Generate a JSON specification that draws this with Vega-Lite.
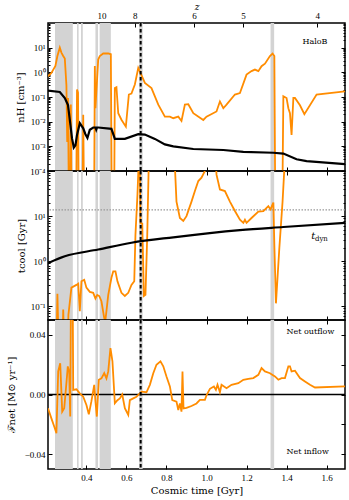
{
"$schema": "https://vega.github.io/schema/vega-lite/v6.json",
"padding": {"left": 5, "right": 2, "top": 1, "bottom": 2},
"bounds": "flush",
"spacing": 0,
"config": {
  "font": "DejaVu Serif",
  "view": {"stroke": "black", "strokeWidth": 1.5},
  "axis": {"domain": false, "grid": false, "tickColor": "black", "tickWidth": 1, "labelFont": "Liberation Serif", "labelFontSize": 9, "labelColor": "black", "titleFont": "DejaVu Serif", "titleFontSize": 10, "titleFontWeight": "normal", "titleColor": "black", "labelOverlap": false, "labelFlush": false}
},
"datasets": {
  "bands": [{"t0":0.243,"t1":0.332},{"t0":0.353,"t1":0.361},{"t0":0.373,"t1":0.382},{"t0":0.445,"t1":0.458},{"t0":0.466,"t1":0.522},{"t0":0.663,"t1":0.681},{"t0":1.320,"t1":1.338}],
  "event": [{"t":0.671}],
  "nh_gas": [
    {"t":0.208,"v":0.69},{"t":0.225,"v":0.95},{"t":0.245,"v":1.8},{"t":0.255,"v":4.6},{"t":0.267,"v":10},{"t":0.275,"v":6.3},{"t":0.284,"v":4.6},{"t":0.292,"v":3.6},{"t":0.300,"v":0.3},{"t":0.304,"v":0.0015},{"t":0.308,"v":0.09},{"t":0.313,"v":0.000001},{"t":0.318,"v":0.000001},{"t":0.322,"v":0.05},{"t":0.326,"v":0.000001},{"t":0.348,"v":0.000001},{"t":0.353,"v":0.2},{"t":0.358,"v":0.15},{"t":0.362,"v":0.000001},{"t":0.380,"v":0.000001},{"t":0.384,"v":0.019},{"t":0.389,"v":0.000001},{"t":0.438,"v":0.000001},{"t":0.442,"v":1.8},{"t":0.445,"v":0.035},{"t":0.459,"v":3.3},{"t":0.467,"v":4.6},{"t":0.484,"v":5.8},{"t":0.509,"v":5.8},{"t":0.522,"v":5.4},{"t":0.527,"v":0.000001},{"t":0.538,"v":0.000001},{"t":0.542,"v":0.23},{"t":0.550,"v":0.25},{"t":0.559,"v":0.022},{"t":0.575,"v":0.012},{"t":0.597,"v":0.0063},{"t":0.612,"v":0.126},{"t":0.625,"v":0.138},{"t":0.642,"v":0.32},{"t":0.659,"v":1.5},{"t":0.670,"v":0.95},{"t":0.692,"v":0.37},{"t":0.725,"v":0.23},{"t":0.759,"v":0.049},{"t":0.792,"v":0.016},{"t":0.817,"v":0.016},{"t":0.834,"v":0.0138},{"t":0.859,"v":0.016},{"t":0.875,"v":0.0107},{"t":0.892,"v":0.049},{"t":0.909,"v":0.051},{"t":0.934,"v":0.022},{"t":0.984,"v":0.0117},{"t":1.000,"v":0.016},{"t":1.050,"v":0.026},{"t":1.067,"v":0.066},{"t":1.084,"v":0.035},{"t":1.100,"v":0.049},{"t":1.142,"v":0.126},{"t":1.167,"v":0.145},{"t":1.200,"v":0.81},{"t":1.225,"v":1.12},{"t":1.242,"v":1.29},{"t":1.259,"v":1.12},{"t":1.275,"v":1.78},{"t":1.292,"v":2.24},{"t":1.317,"v":4.6},{"t":1.330,"v":5.8},{"t":1.339,"v":4.6},{"t":1.344,"v":0.000001},{"t":1.378,"v":0.000001},{"t":1.384,"v":0.107},{"t":1.400,"v":0.091},{"t":1.409,"v":0.035},{"t":1.417,"v":0.022},{"t":1.425,"v":0.0029},{"t":1.434,"v":0.091},{"t":1.442,"v":0.091},{"t":1.467,"v":0.046},{"t":1.489,"v":0.02},{"t":1.550,"v":0.126},{"t":1.692,"v":0.17}
  ],
  "nh_mean": [
    {"t":0.208,"v":0.18},{"t":0.267,"v":0.16},{"t":0.292,"v":0.091},{"t":0.308,"v":0.047},{"t":0.320,"v":0.0074},{"t":0.328,"v":0.0021},{"t":0.337,"v":0.00089},{"t":0.345,"v":0.0011},{"t":0.353,"v":0.0029},{"t":0.367,"v":0.0087},{"t":0.384,"v":0.0054},{"t":0.395,"v":0.0031},{"t":0.405,"v":0.0022},{"t":0.417,"v":0.0047},{"t":0.434,"v":0.0058},{"t":0.445,"v":0.0058},{"t":0.449,"v":0.0047},{"t":0.453,"v":0.0058},{"t":0.459,"v":0.0058},{"t":0.525,"v":0.0051},{"t":0.542,"v":0.002},{"t":0.592,"v":0.002},{"t":0.659,"v":0.0031},{"t":0.692,"v":0.003},{"t":0.742,"v":0.002},{"t":0.792,"v":0.0012},{"t":0.834,"v":0.001},{"t":0.934,"v":0.00078},{"t":1.084,"v":0.00071},{"t":1.184,"v":0.0006},{"t":1.334,"v":0.00055},{"t":1.384,"v":0.00051},{"t":1.450,"v":0.0003},{"t":1.500,"v":0.00025},{"t":1.692,"v":0.00019}
  ],
  "tcool": [
    {"t":0.208,"v":0.01},{"t":0.250,"v":0.01},{"t":0.255,"v":0.19},{"t":0.262,"v":0.01},{"t":0.280,"v":0.01},{"t":0.284,"v":0.085},{"t":0.290,"v":0.01},{"t":0.305,"v":0.01},{"t":0.310,"v":0.065},{"t":0.325,"v":0.26},{"t":0.350,"v":0.30},{"t":0.359,"v":0.32},{"t":0.367,"v":0.078},{"t":0.375,"v":0.36},{"t":0.389,"v":0.39},{"t":0.400,"v":0.26},{"t":0.417,"v":0.21},{"t":0.434,"v":0.20},{"t":0.445,"v":0.15},{"t":0.454,"v":0.18},{"t":0.464,"v":0.17},{"t":0.475,"v":0.13},{"t":0.489,"v":0.055},{"t":0.495,"v":0.05},{"t":0.509,"v":0.18},{"t":0.525,"v":0.43},{"t":0.534,"v":0.6},{"t":0.545,"v":0.6},{"t":0.555,"v":0.36},{"t":0.575,"v":0.2},{"t":0.592,"v":0.17},{"t":0.609,"v":0.2},{"t":0.625,"v":0.3},{"t":0.639,"v":0.36},{"t":0.645,"v":3.9},{"t":0.655,"v":30},{"t":0.662,"v":200},{"t":0.666,"v":200},{"t":0.670,"v":7.1},{"t":0.679,"v":6.8},{"t":0.687,"v":0.17},{"t":0.695,"v":0.18},{"t":0.704,"v":3.9},{"t":0.712,"v":200},{"t":0.840,"v":200},{"t":0.850,"v":21},{"t":0.867,"v":9.1},{"t":0.884,"v":7.8},{"t":0.900,"v":10},{"t":0.925,"v":21},{"t":0.942,"v":36},{"t":0.959,"v":60},{"t":0.975,"v":71},{"t":0.992,"v":100},{"t":1.000,"v":200},{"t":1.045,"v":200},{"t":1.050,"v":83},{"t":1.067,"v":39},{"t":1.092,"v":36},{"t":1.117,"v":21},{"t":1.142,"v":13},{"t":1.167,"v":8.3},{"t":1.184,"v":7.1},{"t":1.192,"v":8.3},{"t":1.200,"v":7.1},{"t":1.225,"v":9.1},{"t":1.259,"v":12.6},{"t":1.284,"v":12.9},{"t":1.309,"v":16.6},{"t":1.320,"v":14.1},{"t":1.334,"v":20},{"t":1.339,"v":2.3},{"t":1.347,"v":0.117},{"t":1.364,"v":2.0},{"t":1.380,"v":21},{"t":1.392,"v":200},{"t":1.692,"v":200}
  ],
  "tdyn": [
    {"t":0.208,"v":0.91},{"t":0.292,"v":1.29},{"t":0.459,"v":1.82},{"t":0.625,"v":2.57},{"t":0.834,"v":3.4},{"t":1.167,"v":4.9},{"t":1.384,"v":5.75},{"t":1.692,"v":7.1}
  ],
  "fnet": [
    {"t":0.208,"v":-0.0092},{"t":0.225,"v":-0.016},{"t":0.242,"v":-0.0227},{"t":0.250,"v":-0.026},{"t":0.259,"v":0.0155},{"t":0.269,"v":0.021},{"t":0.279,"v":-0.0115},{"t":0.289,"v":-0.0092},{"t":0.300,"v":0.0076},{"t":0.307,"v":0.0189},{"t":0.314,"v":0.015},{"t":0.319,"v":-0.0148},{"t":0.324,"v":0.1},{"t":0.330,"v":0.1},{"t":0.334,"v":0.0031},{"t":0.350,"v":0.0035},{"t":0.367,"v":0.0008},{"t":0.384,"v":-0.0015},{"t":0.400,"v":-0.007},{"t":0.412,"v":-0.0133},{"t":0.425,"v":-0.0045},{"t":0.439,"v":0.0065},{"t":0.445,"v":-0.0045},{"t":0.452,"v":-0.0148},{"t":0.462,"v":0.0099},{"t":0.475,"v":0.0108},{"t":0.489,"v":0.0143},{"t":0.500,"v":0.0108},{"t":0.509,"v":0.0155},{"t":0.520,"v":0.0312},{"t":0.530,"v":0.0222},{"t":0.542,"v":-0.0059},{"t":0.555,"v":-0.0038},{"t":0.567,"v":-0.0026},{"t":0.579,"v":0.0},{"t":0.592,"v":-0.0092},{"t":0.609,"v":-0.0137},{"t":0.617,"v":-0.0038},{"t":0.634,"v":-0.0026},{"t":0.650,"v":-0.0015},{"t":0.667,"v":0.0008},{"t":0.675,"v":0.0019},{"t":0.700,"v":0.0015},{"t":0.717,"v":0.0065},{"t":0.734,"v":0.0143},{"t":0.750,"v":0.020},{"t":0.770,"v":0.0222},{"t":0.784,"v":0.0189},{"t":0.800,"v":0.0121},{"t":0.817,"v":0.0054},{"t":0.829,"v":-0.0038},{"t":0.850,"v":-0.0048},{"t":0.859,"v":-0.0104},{"t":0.867,"v":-0.006},{"t":0.875,"v":-0.0115},{"t":0.880,"v":0.0155},{"t":0.885,"v":-0.0093},{"t":0.900,"v":-0.009},{"t":0.925,"v":-0.0077},{"t":0.950,"v":-0.006},{"t":0.967,"v":-0.0036},{"t":0.992,"v":-0.0036},{"t":1.000,"v":-0.0005},{"t":1.017,"v":0.0038},{"t":1.037,"v":0.0054},{"t":1.047,"v":0.0031},{"t":1.055,"v":0.0065},{"t":1.067,"v":0.0015},{"t":1.075,"v":0.0065},{"t":1.100,"v":0.0042},{"t":1.125,"v":0.0065},{"t":1.159,"v":0.0076},{"t":1.184,"v":0.0099},{"t":1.209,"v":0.0105},{"t":1.234,"v":0.011},{"t":1.259,"v":0.0132},{"t":1.275,"v":0.0177},{"t":1.292,"v":0.0155},{"t":1.317,"v":0.0143},{"t":1.342,"v":0.0121},{"t":1.359,"v":0.0099},{"t":1.375,"v":0.011},{"t":1.392,"v":0.011},{"t":1.409,"v":0.0189},{"t":1.417,"v":0.0189},{"t":1.425,"v":0.0155},{"t":1.442,"v":0.016},{"t":1.467,"v":0.011},{"t":1.492,"v":0.0087},{"t":1.517,"v":0.0065},{"t":1.542,"v":0.0047},{"t":1.692,"v":0.0054}
  ],
  "label1": [{"t":1.542,"v":17.6,"label":"HaloB"}],
  "label2a": [{"t":1.534,"v":3.65,"label":"t"}],
  "label2b": [{"t":1.574,"v":3.05,"label":"dyn"}],
  "label3": [{"t":1.4,"v":0.0418,"label":"Net outflow"},{"t":1.4,"v":-0.0384,"label":"Net inflow"}],
  "one": [{"a":1}]
},
"vconcat": [
 {
  "width": 297, "height": 148,
  "layer": [
   {"layer": [
     {"data":{"name":"bands"},"mark":{"type":"rect","color":"#d3d3d3"},
      "encoding":{"x":{"field":"t0","type":"quantitative","scale":{"domain":[0.208,1.692],"nice":false,"zero":false},
        "axis":{"orient":"bottom","values":[0.4,0.6,0.8,1.0,1.2,1.4,1.6],"labels":false,"tickSize":-4,"title":null}},"x2":{"field":"t1"}}},
     {"data":{"name":"nh_gas"},"mark":{"type":"line","color":"#ff8c00","strokeWidth":1.8,"clip":true},
      "encoding":{"x":{"field":"t","type":"quantitative"},
        "y":{"field":"v","type":"quantitative","scale":{"type":"log","domain":[0.0001,100],"nice":false},
          "axis":{"orient":"left","title":"nH [cm⁻³]","titlePadding":4,"labelPadding":7,
            "values":[0.0001,0.0002,0.0003,0.0004,0.0005,0.0006,0.0007,0.0008,0.0009,0.001,0.002,0.003,0.004,0.005,0.006,0.007,0.008,0.009,0.01,0.02,0.03,0.04,0.05,0.06,0.07,0.08,0.09,0.1,0.2,0.3,0.4,0.5,0.6,0.7,0.8,0.9,1,2,3,4,5,6,7,8,9,10,20,30,40,50,60,70,80,90],
            "labelExpr":"abs(log(datum.value)/LN10 - round(log(datum.value)/LN10)) > 0.01 ? '' : ['10⁻⁴','10⁻³','10⁻²','10⁻¹','10⁰','10¹','10²'][round(log(datum.value)/LN10)+4]",
            "tickSize":{"condition":{"test":"abs(log(datum.value)/LN10 - round(log(datum.value)/LN10)) < 0.01","value":-4},"value":-2}}}}},
     {"data":{"name":"nh_mean"},"mark":{"type":"line","color":"black","strokeWidth":2.2,"clip":true},
      "encoding":{"x":{"field":"t","type":"quantitative"},"y":{"field":"v","type":"quantitative"}}},
     {"data":{"name":"event"},"mark":{"type":"rule","color":"black","strokeWidth":2,"strokeDash":[3.5,2.5]},
      "encoding":{"x":{"field":"t","type":"quantitative"}}},
     {"data":{"name":"label1"},"mark":{"type":"text","fontSize":8,"align":"center","baseline":"middle","color":"black"},
      "encoding":{"x":{"field":"t","type":"quantitative"},"y":{"field":"v","type":"quantitative"},"text":{"field":"label"}}}
   ]},
   {"data":{"name":"one"},"mark":{"type":"point","opacity":0},
    "encoding":{
     "x":{"datum":1,"type":"quantitative","scale":{"domain":[0.208,1.692],"nice":false,"zero":false},
      "axis":{"orient":"top","values":[0.475,0.642,0.938,1.182,1.553],"tickSize":-4,"labelPadding":7,
        "labelExpr":"datum.value < 0.5 ? '10' : datum.value < 0.7 ? '8' : datum.value < 1 ? '6' : datum.value < 1.3 ? '5' : '4'",
        "title":"z","titleFontStyle":"italic","titleFontSize":9,"titlePadding":0}},
     "y":{"datum":1,"type":"quantitative","scale":{"type":"log","domain":[0.0001,100],"nice":false},
      "axis":{"orient":"right","labels":false,"title":null,
        "values":[0.0001,0.0002,0.0003,0.0004,0.0005,0.0006,0.0007,0.0008,0.0009,0.001,0.002,0.003,0.004,0.005,0.006,0.007,0.008,0.009,0.01,0.02,0.03,0.04,0.05,0.06,0.07,0.08,0.09,0.1,0.2,0.3,0.4,0.5,0.6,0.7,0.8,0.9,1,2,3,4,5,6,7,8,9,10,20,30,40,50,60,70,80,90],
        "tickSize":{"condition":{"test":"abs(log(datum.value)/LN10 - round(log(datum.value)/LN10)) < 0.01","value":-4},"value":-2}}}}}
  ],
  "resolve":{"scale":{"x":"independent","y":"independent"}}
 },
 {
  "width": 297, "height": 149,
  "layer": [
   {"layer": [
     {"data":{"name":"bands"},"mark":{"type":"rect","color":"#d3d3d3"},
      "encoding":{"x":{"field":"t0","type":"quantitative","scale":{"domain":[0.208,1.692],"nice":false,"zero":false},
        "axis":{"orient":"bottom","values":[0.4,0.6,0.8,1.0,1.2,1.4,1.6],"labels":false,"tickSize":-4,"title":null}},"x2":{"field":"t1"}}},
     {"data":{"name":"one"},"mark":{"type":"rule","color":"#999999","strokeWidth":1.2,"strokeDash":[1.5,1.5]},
      "encoding":{"y":{"datum":13.7,"type":"quantitative"}}},
     {"data":{"name":"tcool"},"mark":{"type":"line","color":"#ff8c00","strokeWidth":1.8,"clip":true},
      "encoding":{"x":{"field":"t","type":"quantitative"},
        "y":{"field":"v","type":"quantitative","scale":{"type":"log","domain":[0.05,100],"nice":false},
          "axis":{"orient":"left","title":"tcool [Gyr]","titlePadding":4,"labelPadding":7,
            "values":[0.05,0.06,0.07,0.08,0.09,0.1,0.2,0.3,0.4,0.5,0.6,0.7,0.8,0.9,1,2,3,4,5,6,7,8,9,10,20,30,40,50,60,70,80,90],
            "labelExpr":"abs(log(datum.value)/LN10 - round(log(datum.value)/LN10)) > 0.01 ? '' : ['10⁻⁴','10⁻³','10⁻²','10⁻¹','10⁰','10¹','10²'][round(log(datum.value)/LN10)+4]",
            "tickSize":{"condition":{"test":"abs(log(datum.value)/LN10 - round(log(datum.value)/LN10)) < 0.01","value":-4},"value":-2}}}}},
     {"data":{"name":"tdyn"},"mark":{"type":"line","color":"black","strokeWidth":2.2,"clip":true,"interpolate":"monotone"},
      "encoding":{"x":{"field":"t","type":"quantitative"},"y":{"field":"v","type":"quantitative"}}},
     {"data":{"name":"event"},"mark":{"type":"rule","color":"black","strokeWidth":2,"strokeDash":[3.5,2.5]},
      "encoding":{"x":{"field":"t","type":"quantitative"}}},
     {"data":{"name":"label2a"},"mark":{"type":"text","fontSize":10,"fontStyle":"italic","align":"center","baseline":"middle","color":"black"},
      "encoding":{"x":{"field":"t","type":"quantitative"},"y":{"field":"v","type":"quantitative"},"text":{"field":"label"}}},
     {"data":{"name":"label2b"},"mark":{"type":"text","fontSize":7,"align":"center","baseline":"middle","color":"black"},
      "encoding":{"x":{"field":"t","type":"quantitative"},"y":{"field":"v","type":"quantitative"},"text":{"field":"label"}}}
   ]},
   {"data":{"name":"one"},"mark":{"type":"point","opacity":0},
    "encoding":{
     "x":{"datum":1,"type":"quantitative","scale":{"domain":[0.208,1.692],"nice":false,"zero":false},
      "axis":{"orient":"top","values":[0.4,0.6,0.8,1.0,1.2,1.4,1.6],"labels":false,"tickSize":-4,"title":null}},
     "y":{"datum":1,"type":"quantitative","scale":{"type":"log","domain":[0.05,100],"nice":false},
      "axis":{"orient":"right","labels":false,"title":null,
        "values":[0.05,0.06,0.07,0.08,0.09,0.1,0.2,0.3,0.4,0.5,0.6,0.7,0.8,0.9,1,2,3,4,5,6,7,8,9,10,20,30,40,50,60,70,80,90],
        "tickSize":{"condition":{"test":"abs(log(datum.value)/LN10 - round(log(datum.value)/LN10)) < 0.01","value":-4},"value":-2}}}}}
  ],
  "resolve":{"scale":{"x":"independent","y":"independent"}}
 },
 {
  "width": 297, "height": 149,
  "layer": [
   {"layer": [
     {"data":{"name":"bands"},"mark":{"type":"rect","color":"#d3d3d3"},
      "encoding":{"x":{"field":"t0","type":"quantitative","scale":{"domain":[0.208,1.692],"nice":false,"zero":false},
        "axis":{"orient":"bottom","values":[0.4,0.6,0.8,1.0,1.2,1.4,1.6],"format":".1f","tickSize":-4,"labelPadding":8,"title":"Cosmic time [Gyr]","titlePadding":3}},"x2":{"field":"t1"}}},
     {"data":{"name":"one"},"mark":{"type":"rule","color":"black","strokeWidth":1.5},
      "encoding":{"y":{"datum":0,"type":"quantitative"}}},
     {"data":{"name":"fnet"},"mark":{"type":"line","color":"#ff8c00","strokeWidth":1.8,"clip":true},
      "encoding":{"x":{"field":"t","type":"quantitative"},
        "y":{"field":"v","type":"quantitative","scale":{"domain":[-0.05,0.05],"nice":false,"zero":false},
          "axis":{"orient":"left","title":"ℱnet [M⊙ yr⁻¹]","titlePadding":8,"labelPadding":7,"values":[-0.04,-0.02,0,0.02,0.04],"format":".2f","tickSize":-4}}}},
     {"data":{"name":"event"},"mark":{"type":"rule","color":"black","strokeWidth":2,"strokeDash":[3.5,2.5]},
      "encoding":{"x":{"field":"t","type":"quantitative"}}},
     {"data":{"name":"label3"},"mark":{"type":"text","fontSize":8,"align":"left","baseline":"middle","color":"black"},
      "encoding":{"x":{"field":"t","type":"quantitative"},"y":{"field":"v","type":"quantitative"},"text":{"field":"label"}}}
   ]},
   {"data":{"name":"one"},"mark":{"type":"point","opacity":0},
    "encoding":{
     "x":{"datum":1,"type":"quantitative","scale":{"domain":[0.208,1.692],"nice":false,"zero":false},
      "axis":{"orient":"top","values":[0.4,0.6,0.8,1.0,1.2,1.4,1.6],"labels":false,"tickSize":-4,"title":null}},
     "y":{"datum":0,"type":"quantitative","scale":{"domain":[-0.05,0.05],"nice":false,"zero":false},
      "axis":{"orient":"right","labels":false,"title":null,"values":[-0.04,-0.02,0,0.02,0.04],"tickSize":-4}}}}
  ],
  "resolve":{"scale":{"x":"independent","y":"independent"}}
 }
]
}
